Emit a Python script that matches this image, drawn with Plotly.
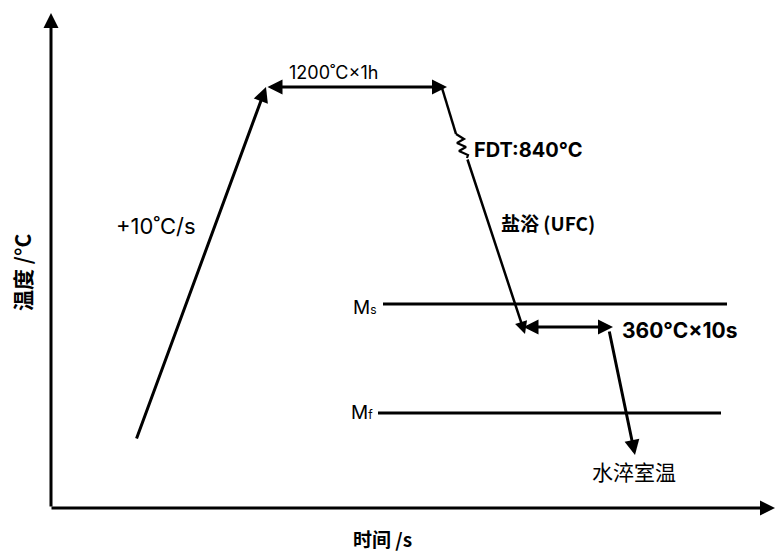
import plotly.graph_objects as go

# Schematic thermal path: time (arbitrary units) vs temperature level (arbitrary units)
heat_t = [136, 266]          # heating at +10 °C/s
heat_T = [111, 464]
hold_t = [266, 447]          # 1200 °C x 1 h soak
hold_T = [464, 464]
cool1_t = [442, 456]         # cooling towards FDT (before the break mark)
cool1_T = [463, 417]
brk_t = [456, 464, 457, 466, 459, 468, 467]   # break (spring) symbol on the cooling line
brk_T = [417, 412, 408, 404, 400, 396, 393]
cool2_t = [467, 525]         # salt-bath cooling (UFC)
cool2_T = [393, 217]
iso_t = [522, 613]           # 360 °C x 10 s isothermal hold
iso_T = [224, 224]
quench_t = [609, 635]        # water quench to room temperature
quench_T = [221, 96]
ms_t, ms_T = [383, 727], [247, 247]
mf_t, mf_T = [378, 721], [138, 138]
axis_origin = (51, 43)
axis_t_end = 775
axis_T_end = 538

LATIN = "Inter, Noto Sans CJK SC, sans-serif"
CJK = "Noto Sans CJK SC, Inter, sans-serif"
BLACK = "#000000"

fig = go.Figure()

def line(xs, ys, width=3):
    fig.add_trace(go.Scatter(x=xs, y=ys, mode="lines",
                             line=dict(color=BLACK, width=width),
                             hoverinfo="skip", showlegend=False))

def arrow(x0, y0, x1, y1, both=False, width=3):
    kw = dict(x=x1, y=y1, ax=x0, ay=y0, xref="x", yref="y", axref="x", ayref="y",
              text="", showarrow=True, arrowhead=2, arrowsize=1, arrowwidth=width,
              arrowcolor=BLACK)
    if both:
        kw.update(arrowside="end+start", startarrowhead=2, startarrowsize=1)
    fig.add_annotation(**kw)

# axes drawn as arrows
arrow(axis_origin[0], axis_origin[1], axis_origin[0], axis_T_end)
arrow(axis_origin[0] - 1, axis_origin[1], axis_t_end, axis_origin[1])

# process path
arrow(heat_t[0], heat_T[0], heat_t[1], heat_T[1])
arrow(hold_t[0], hold_T[0], hold_t[1], hold_T[1], both=True)
line(cool1_t, cool1_T, width=2.5)
line(brk_t, brk_T, width=2.2)
arrow(cool2_t[0], cool2_T[0], cool2_t[1], cool2_T[1], width=2.5)
arrow(iso_t[0], iso_T[0], iso_t[1], iso_T[1], both=True)
arrow(quench_t[0], quench_T[0], quench_t[1], quench_T[1])

# martensite start / finish lines
line(ms_t, ms_T, width=2.8)
line(mf_t, mf_T, width=2.8)

def label(x, y, text, size, bold=False, family=LATIN, angle=0):
    fig.add_annotation(x=x, y=y, xref="x", yref="y", text=f"<b>{text}</b>" if bold else text,
                       showarrow=False, textangle=angle,
                       font=dict(family=family, size=size, color=BLACK),
                       xanchor="center", yanchor="middle")

small = "<span style='font-size:12px'>{}</span>"
label(333, 479, "1200˚C×1h", 18)
label(156, 325, "+10˚C/s", 22)
label(528, 401, "FDT:840°C", 20, bold=True)
label(548, 329, "盐浴 (UFC)", 19, bold=True, family=CJK)
label(365, 244, "M" + small.format("s"), 19)
label(679, 221, "360°C×10s", 21, bold=True)
label(362, 139, "M" + small.format("f"), 19)
label(634, 80, "水淬室温", 21, family=CJK)
label(382, 13, "时间 /s", 19, bold=True, family=CJK)
label(22, 278, "温度 /°C", 21, bold=True, family=CJK, angle=-90)

fig.update_layout(
    width=775, height=551,
    margin=dict(l=0, r=0, t=0, b=0),
    paper_bgcolor="white", plot_bgcolor="white",
    xaxis=dict(range=[0, 775], visible=False, fixedrange=True),
    yaxis=dict(range=[0, 551], visible=False, fixedrange=True),
    showlegend=False,
)

fig.write_html("out.html")
